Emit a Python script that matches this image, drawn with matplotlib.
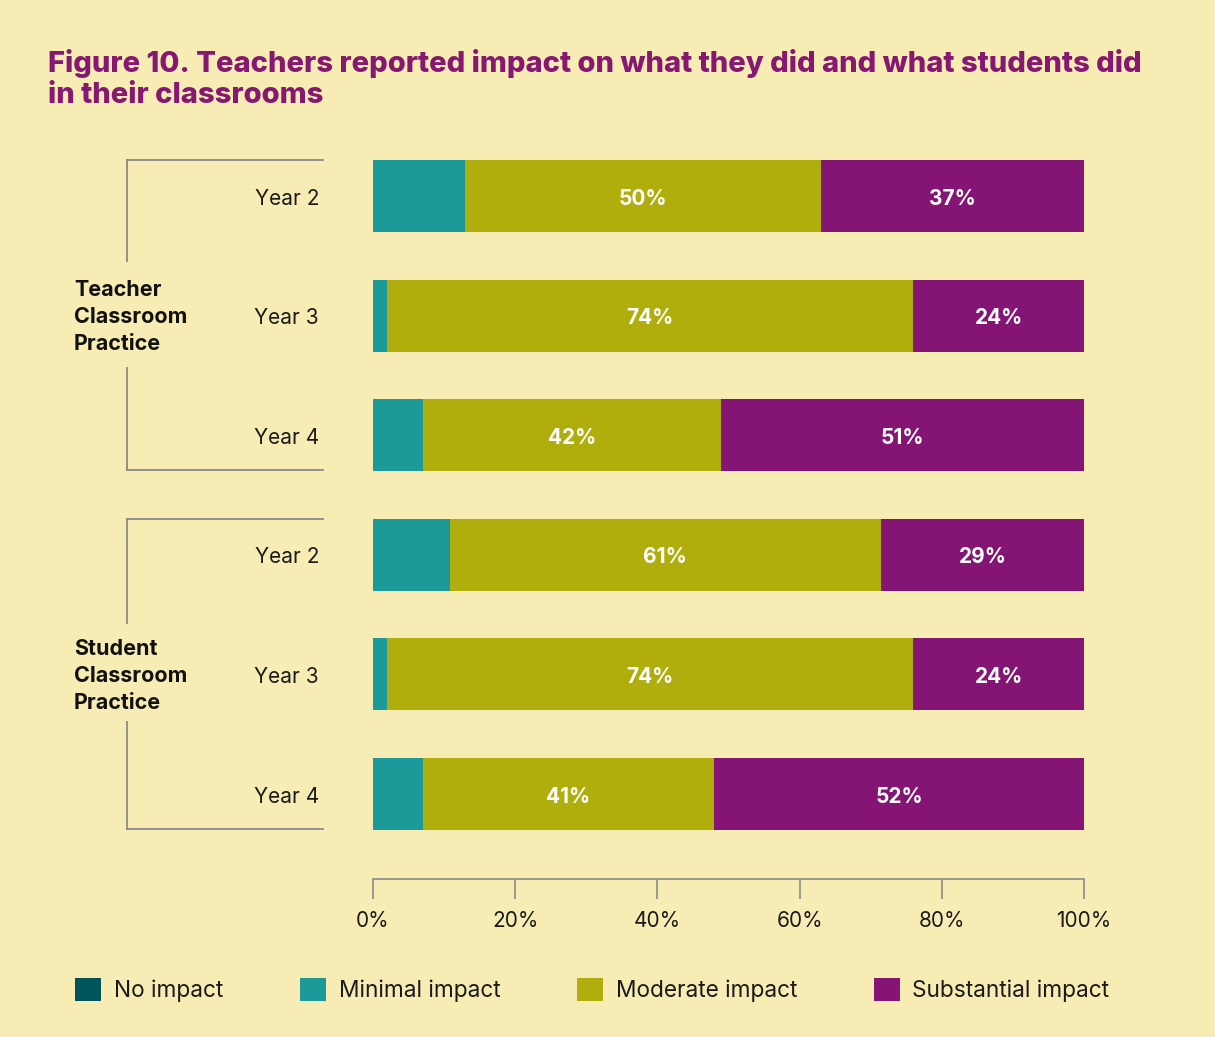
import matplotlib.pyplot as plt
import numpy as np

plt.rcParams['font.family'] = ['Inter', 'DejaVu Sans']

# data
groups = ["Teacher\nClassroom\nPractice", "Student\nClassroom\nPractice"]
years = ["Year 2", "Year 3", "Year 4", "Year 2", "Year 3", "Year 4"]
no_impact = [0, 0, 0, 0, 0, 0]
minimal = [13, 2, 7, 10.8, 2, 7]
moderate = [50, 74, 42, 60.6, 74, 41]
substantial = [37, 24, 51, 28.6, 24, 52]
series_names = ["No impact", "Minimal impact", "Moderate impact", "Substantial impact"]
xticks = [0, 20, 40, 60, 80, 100]

bg = "#F8ECB5"
colors = ["#01555A", "#1C9A9A", "#B0AE0C", "#851574"]
title_col = "#861872"
line_col = "#8A8A8A"

W, H = 1215, 1037
fig = plt.figure(figsize=(W / 100, H / 100), dpi=100, facecolor=bg)

# axes: x from px 373 to 1084, y from px 140 to 879
ax = fig.add_axes([373 / W, 1 - 879 / H, 711 / W, (879 - 140) / H], facecolor=bg)

y = np.arange(len(years))
h = 0.602
dy = 0.022  # nudge text down a little to sit centred like the original
left = np.zeros(len(years))
for vals, name, c in zip([no_impact, minimal, moderate, substantial], series_names, colors):
    bars = ax.barh(y, vals, left=left, height=h, color=c, label=name, linewidth=0)
    if name in ("Moderate impact", "Substantial impact"):
        for b, v in zip(bars, vals):
            ax.text(b.get_x() + b.get_width() / 2, b.get_y() + b.get_height() / 2 + dy,
                    f"{round(v)}%", ha="center", va="center", color="white",
                    fontsize=15, fontweight="bold")
    left += np.array(vals)

ax.set_xlim(0, 100)
ax.set_ylim(5.711, -0.468)
ax.set_yticks([])
ax.set_xticks(xticks)
ax.set_xticklabels([f"{t}%" for t in xticks], fontsize=15, color="#1a1a1a")
ax.tick_params(axis="x", direction="out", length=14.4, width=1.2, color=line_col, pad=8.5)
for s in ["top", "left", "right"]:
    ax.spines[s].set_visible(False)
ax.spines["bottom"].set_color(line_col)
ax.spines["bottom"].set_linewidth(1.2)

# year labels
for i, yr in enumerate(years):
    ax.text(-7.58, i + dy, yr, ha="right", va="center", fontsize=15, color="#1a1a1a")

# group brackets (figure pixel coords)
def fx(px):
    return px / W

def fy(py):
    return 1 - py / H

brackets = [(160, 261, 368, 470, 316), (519, 623, 722, 829, 675)]
for g, (top, gap1, gap2, bot, mid) in zip(groups, brackets):
    kw = dict(color=line_col, linewidth=1.3, transform=fig.transFigure)
    fig.add_artist(plt.Line2D([fx(127), fx(323)], [fy(top), fy(top)], **kw))
    fig.add_artist(plt.Line2D([fx(127), fx(127)], [fy(top), fy(gap1)], **kw))
    fig.add_artist(plt.Line2D([fx(127), fx(127)], [fy(gap2), fy(bot)], **kw))
    fig.add_artist(plt.Line2D([fx(127), fx(323)], [fy(bot), fy(bot)], **kw))
    fig.text(fx(74), fy(mid + 1), g, ha="left", va="center", fontsize=15.5,
             fontweight="bold", color="#111111", linespacing=1.42)

# title
fig.text(fx(48), fy(49), "Figure 10. Teachers reported impact on what they did and what students did\nin their classrooms",
         ha="left", va="top", fontsize=21.0, fontweight="heavy", color=title_col, linespacing=1.18)

# legend
fig.legend(loc="center left", bbox_to_anchor=(fx(55), fy(990)), ncol=4, frameon=False,
           fontsize=16.3, handlelength=1.15, handleheight=1.2, handletextpad=0.55,
           columnspacing=3.4, labelcolor="#1a1a1a")

fig.savefig("out.png", dpi=100, facecolor=bg)
